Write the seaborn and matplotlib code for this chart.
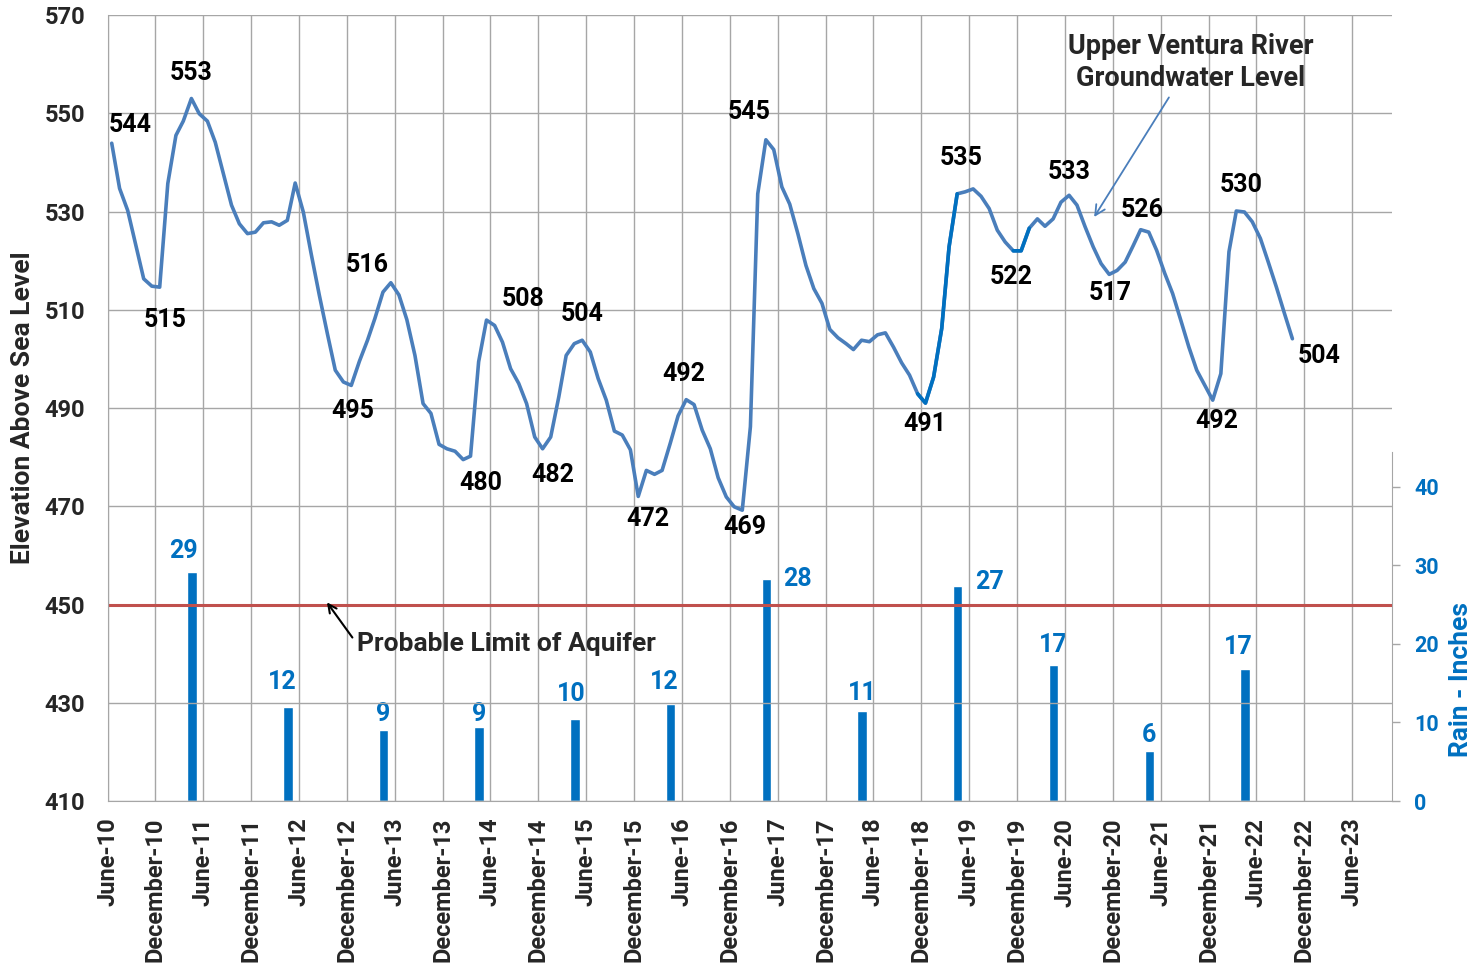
import pandas as pd
import numpy as np
import matplotlib
matplotlib.use('Agg')
import matplotlib.pyplot as plt
import matplotlib.dates as mdates
import seaborn as sns

# groundwater level, one reading a month from June 2010
level = [543.9, 534.7, 530.2, 523.1, 516.3, 514.8, 514.6, 535.7, 545.5, 548.4,
         553.0, 549.9, 548.4, 544.1, 537.7, 531.3, 527.5, 525.5, 525.8, 527.7,
         527.9, 527.2, 528.2, 535.8, 529.9, 521.4, 513.0, 505.1, 497.7, 495.3,
         494.6, 499.5, 503.8, 508.2, 513.6, 515.5, 513.0, 508.0, 500.7, 490.9,
         488.9, 482.6, 481.7, 481.2, 479.5, 480.2, 499.4, 507.9, 506.8, 503.4,
         498.0, 495.0, 490.9, 484.1, 481.7, 484.1, 492.3, 500.7, 503.1, 503.8,
         501.4, 496.0, 491.6, 485.3, 484.5, 481.5, 472.0, 477.3, 476.5, 477.3,
         482.8, 488.4, 491.7, 490.7, 485.5, 481.7, 475.8, 471.9, 469.9, 469.2,
         486.2, 533.6, 544.6, 542.6, 535.0, 531.5, 525.5, 519.0, 514.3, 511.3,
         506.0, 504.3, 503.1, 501.9, 503.8, 503.5, 504.9, 505.3, 502.4, 499.2,
         496.7, 492.9, 491.0, 496.3, 506.2, 522.8, 533.6, 534.0, 534.6, 533.1,
         530.6, 526.2, 523.8, 522.0, 522.0, 526.6, 528.5, 527.0, 528.5, 531.9,
         533.3, 531.3, 526.9, 522.8, 519.4, 517.2, 518.0, 519.7, 523.1, 526.3,
         525.8, 522.1, 517.4, 513.3, 507.9, 502.4, 497.7, 494.6, 491.6, 497.0,
         521.8, 530.1, 529.9, 527.9, 524.5, 519.7, 514.6, 509.2, 504.1]
level_dates = pd.date_range('2010-06-01', periods=len(level), freq='MS') + pd.Timedelta(days=16)

rain_years = list(range(2011, 2023))
rain = [29.2, 11.9, 9.0, 9.4, 10.4, 12.4, 28.3, 11.4, 27.4, 17.3, 6.4, 16.8]
rain_dates = pd.to_datetime([f'{y}-04-19' for y in rain_years])

aquifer_limit = 450
elev_ticks = list(range(410, 571, 20))
rain_ticks = [0, 10, 20, 30, 40]

# labelled highs / lows (index into level)
label_idx = [0, 10, 6, 35, 30, 44, 47, 54, 59, 66, 72, 79, 82, 108, 102, 114,
             120, 125, 129, 141, 138, 148]
label_off = [(18, 18), (0, 26), (5, -33), (-24, 18), (2, -26), (18, -23), (37, 21),
             (10, -26), (0, 26), (10, -23), (-2, 26), (3, -17), (-17, 28), (-12, 31),
             (-1, -21), (-10, -26), (0, 23), (1, -19), (2, 20), (5, 26), (4, -21),
             (27, -17)]
rain_off = [(-8, 21), (-6, 25), (0, 16), (0, 13), (-4, 25), (-6, 22), (31, 0),
            (0, 18), (32, 4), (0, 20), (0, 16), (-7, 22)]

line_col = '#4A7EBB'
dark_col = '#0070C0'
grid_col = '#A6A6A6'

sns.set_style('white')
plt.rcParams['font.family'] = ['Roboto', 'DejaVu Sans']
plt.rcParams['font.weight'] = 'bold'

df = pd.DataFrame({'date': level_dates, 'level': level})

fig = plt.figure(figsize=(14.73, 9.68), dpi=100)
ax = fig.add_axes([0.073, 0.1725, 0.872, 0.812])
ax2 = ax.twinx()

# rain bars
ax2.bar(rain_dates, rain, width=36, color=dark_col, zorder=2)
for d, r, off in zip(rain_dates, rain, rain_off):
    ax2.annotate(f'{r:.0f}', (d, r), xytext=off, textcoords='offset pixels',
                 ha='center', va='center', color=dark_col, fontsize=18, fontweight='bold')
ax2.set_ylim(0, 100)
ax2.set_yticks(rain_ticks)
ax2.tick_params(axis='y', length=6, width=1, color=grid_col, pad=10,
                labelsize=15.5, labelcolor=dark_col)
for s in ['left', 'top', 'bottom']:
    ax2.spines[s].set_visible(False)
ax2.spines['right'].set_color(grid_col)
ax2.spines['right'].set_bounds(0, 44.4)
ax2.set_ylabel('Rain - Inches', color=dark_col, fontsize=19, fontweight='bold')
ax2.yaxis.set_label_coords(1.0444, 0.154)

# groundwater line on top
ax.set_zorder(ax2.get_zorder() + 1)
ax.patch.set_visible(False)
sns.lineplot(data=df, x='date', y='level', ax=ax, color=line_col, lw=2.6)
for a, b in [(101, 107), (113, 116)]:
    sns.lineplot(data=df.iloc[a:b], x='date', y='level', ax=ax, color=dark_col, lw=2.6)
ax.axhline(aquifer_limit, color='#C0504D', lw=2.2)

for i, off in zip(label_idx, label_off):
    ax.annotate(f'{level[i]:.0f}', (level_dates[i], level[i]), xytext=off,
                textcoords='offset pixels', ha='center', va='center',
                fontsize=18, fontweight='bold', color='black')

ax.annotate('Upper Ventura River\nGroundwater Level',
            xy=(pd.Timestamp('2020-09-15'), 528.4), xytext=(pd.Timestamp('2021-09-25'), 560.4),
            ha='center', va='center', fontsize=19.5, fontweight='bold', linespacing=1.25,
            arrowprops=dict(arrowstyle='->', color=line_col, lw=1.3, mutation_scale=18))
ax.annotate('Probable Limit of Aquifer',
            xy=(pd.Timestamp('2012-09-09'), 450.9), xytext=(pd.Timestamp('2013-01-09'), 441.9),
            ha='left', va='center', fontsize=19, fontweight='bold',
            arrowprops=dict(arrowstyle='->', color='black', lw=1.5, relpos=(0, 0.5),
                            mutation_scale=15))

ax.set_ylim(410, 570)
ax.set_yticks(elev_ticks)
ax.set_xlim(pd.Timestamp('2010-06-01'), pd.Timestamp('2023-11-01'))
ax.xaxis.set_major_locator(mdates.MonthLocator(bymonth=[6, 12]))
ax.xaxis.set_major_formatter(mdates.DateFormatter('%B-%y'))
ax.tick_params(axis='x', length=0, pad=12, labelsize=17, rotation=90)
ax.tick_params(axis='y', length=0, pad=16, labelsize=17)
ax.grid(True, color=grid_col, lw=1)
ax.set_xlabel('')
ax.set_ylabel('Elevation Above Sea Level', fontsize=19, fontweight='bold')
ax.yaxis.set_label_coords(-0.0564, 0.5)
for s in ['top', 'right']:
    ax.spines[s].set_visible(False)
for s in ['left', 'bottom']:
    ax.spines[s].set_color(grid_col)

fig.savefig('out.png', dpi=100)
